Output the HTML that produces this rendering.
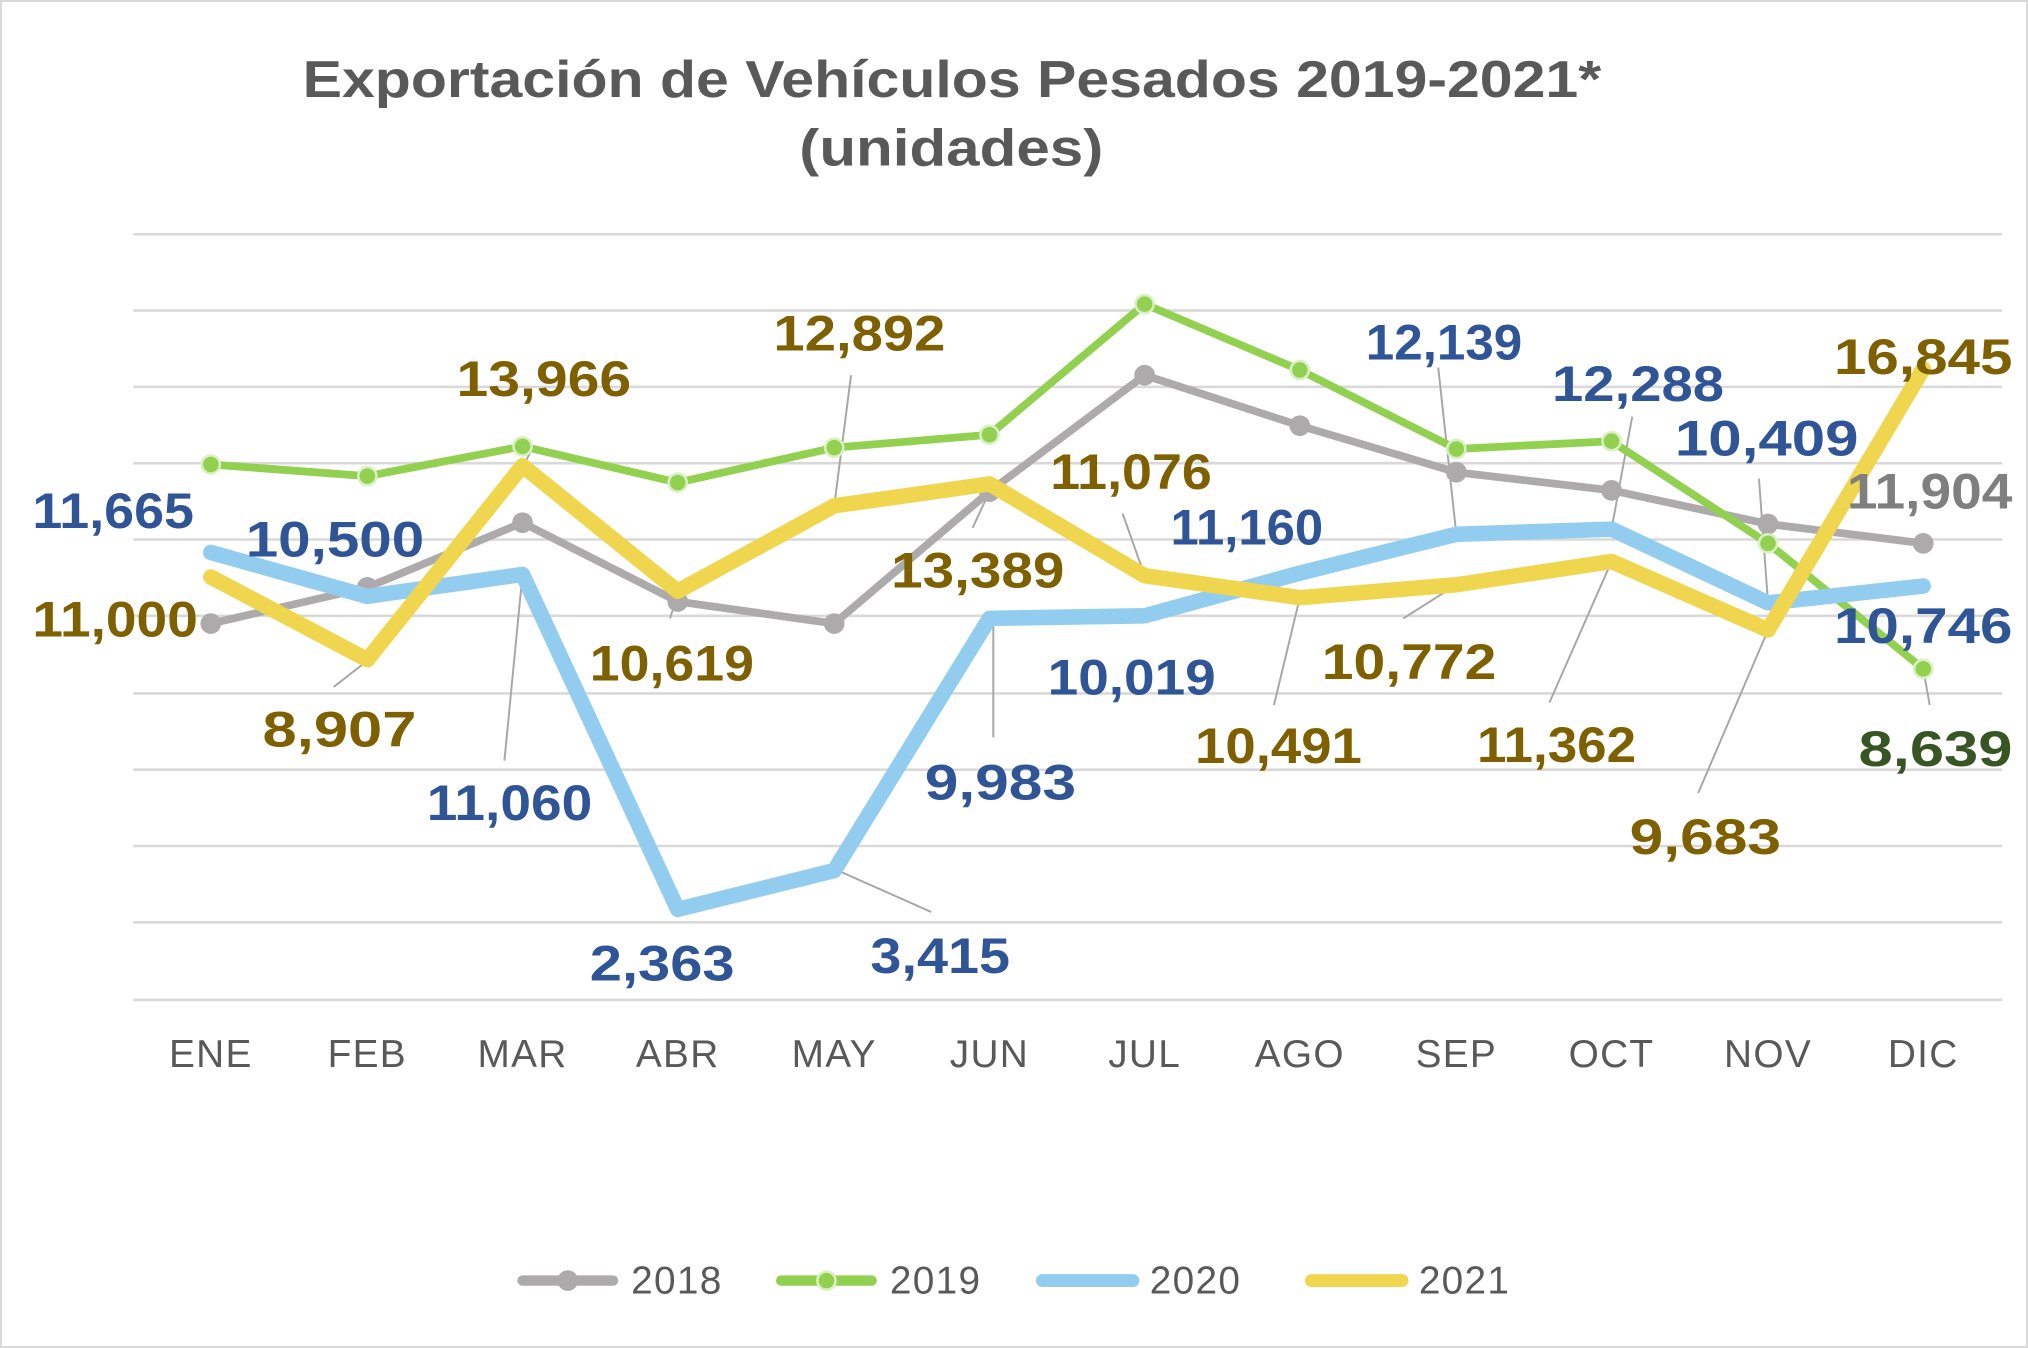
<!DOCTYPE html>
<html><head><meta charset="utf-8"><style>
html,body{margin:0;padding:0;background:#fff;}
svg{display:block;}
text{font-family:"Liberation Sans",sans-serif;}
.lb{font-weight:bold;font-size:39px;}
.b{fill:#2F5597}.g{fill:#7F6000}.dg{fill:#375623}.gr{fill:#7F7F7F}
.ax{font-size:30px;fill:#595959;letter-spacing:1px;}
</style></head><body>
<svg width="2028" height="1348" viewBox="0 0 1568 1042" xmlns="http://www.w3.org/2000/svg">
<rect x="0.5" y="0.5" width="1567" height="1041" fill="#fff" stroke="#d9d9d9" stroke-width="2"/>
<text x="234" y="75" textLength="1004" lengthAdjust="spacingAndGlyphs" font-weight="bold" font-size="40" fill="#595959">Exportación de Vehículos Pesados 2019-2021*</text>
<text x="618" y="128" textLength="235" lengthAdjust="spacingAndGlyphs" font-weight="bold" font-size="40" fill="#595959">(unidades)</text>
<g stroke="#d9d9d9" stroke-width="2">
<line x1="103" x2="1548" y1="181" y2="181"/><line x1="103" x2="1548" y1="240" y2="240"/>
<line x1="103" x2="1548" y1="299" y2="299"/><line x1="103" x2="1548" y1="358" y2="358"/>
<line x1="103" x2="1548" y1="417" y2="417"/><line x1="103" x2="1548" y1="476" y2="476"/>
<line x1="103" x2="1548" y1="536" y2="536"/><line x1="103" x2="1548" y1="595" y2="595"/>
<line x1="103" x2="1548" y1="654" y2="654"/><line x1="103" x2="1548" y1="713" y2="713"/>
<line x1="103" x2="1548" y1="773" y2="773"/>
</g>
<g stroke="#a6a6a6" stroke-width="1.5">
<line x1="258" y1="531" x2="285" y2="510"/><line x1="390" y1="588" x2="404" y2="444"/>
<line x1="404" y1="362" x2="412" y2="345"/><line x1="518" y1="478" x2="524" y2="460"/>
<line x1="645" y1="391" x2="658" y2="290"/><line x1="648" y1="673" x2="720" y2="705"/>
<line x1="752" y1="408" x2="765" y2="380"/><line x1="768" y1="478" x2="768" y2="570"/>
<line x1="868" y1="397" x2="885" y2="445"/><line x1="985" y1="545" x2="1005" y2="462"/>
<line x1="1085" y1="478" x2="1126" y2="452"/><line x1="1112" y1="284" x2="1126" y2="413"/>
<line x1="1198" y1="543" x2="1246" y2="434"/><line x1="1246" y1="409" x2="1262" y2="322"/>
<line x1="1313" y1="613" x2="1367" y2="487"/><line x1="1360" y1="370" x2="1367" y2="466"/>
<line x1="1487" y1="517" x2="1492" y2="545"/>
</g>
<polyline fill="none" stroke="#ADAAAB" stroke-width="6" stroke-linejoin="round" points="163,482 284,454 404,404 524,465 645,482 765,380 885,290 1005,329 1126,365 1246,379 1367,405 1487,420"/>
<g fill="#ADAAAB"><circle cx="163" cy="482" r="8"/><circle cx="284" cy="454" r="8"/><circle cx="404" cy="404" r="8"/><circle cx="524" cy="465" r="8"/><circle cx="645" cy="482" r="8"/><circle cx="765" cy="380" r="8"/><circle cx="885" cy="290" r="8"/><circle cx="1005" cy="329" r="8"/><circle cx="1126" cy="365" r="8"/><circle cx="1246" cy="379" r="8"/><circle cx="1367" cy="405" r="8"/><circle cx="1487" cy="420" r="8"/></g>
<polyline fill="none" stroke="#92D050" stroke-width="6" stroke-linejoin="round" points="163,359 284,368 404,345 524,373 645,346 765,336 885,235 1005,286 1126,347 1246,341 1367,420 1487,517"/>
<g fill="#92D050" stroke="#d9f0c2" stroke-width="2"><circle cx="163" cy="359" r="7"/><circle cx="284" cy="368" r="7"/><circle cx="404" cy="345" r="7"/><circle cx="524" cy="373" r="7"/><circle cx="645" cy="346" r="7"/><circle cx="765" cy="336" r="7"/><circle cx="885" cy="235" r="7"/><circle cx="1005" cy="286" r="7"/><circle cx="1126" cy="347" r="7"/><circle cx="1246" cy="341" r="7"/><circle cx="1367" cy="420" r="7"/><circle cx="1487" cy="517" r="7"/></g>
<polyline fill="none" stroke="#92CDEF" stroke-width="12" stroke-linejoin="round" stroke-linecap="round" points="163,427 284,461 404,444 524,703 645,673 765,478 885,476 1005,443 1126,413 1246,409 1367,466 1487,453"/>
<polyline fill="none" stroke="#F0D64E" stroke-width="12" stroke-linejoin="round" stroke-linecap="round" points="163,446 284,510 404,360 524,457 645,391 765,374 885,445 1005,462 1126,452 1246,434 1367,487 1487,285"/>
<g class="lb" lengthAdjust="spacingAndGlyphs">
<text class="b" x="25" y="408" textLength="125" lengthAdjust="spacingAndGlyphs">11,665</text>
<text class="g" x="25" y="492" textLength="128" lengthAdjust="spacingAndGlyphs">11,000</text>
<text class="b" x="190" y="430" textLength="138" lengthAdjust="spacingAndGlyphs">10,500</text>
<text class="g" x="203" y="577" textLength="119" lengthAdjust="spacingAndGlyphs">8,907</text>
<text class="b" x="330" y="634" textLength="128" lengthAdjust="spacingAndGlyphs">11,060</text>
<text class="g" x="353" y="306" textLength="135" lengthAdjust="spacingAndGlyphs">13,966</text>
<text class="g" x="456" y="526" textLength="127" lengthAdjust="spacingAndGlyphs">10,619</text>
<text class="b" x="456" y="758" textLength="112" lengthAdjust="spacingAndGlyphs">2,363</text>
<text class="g" x="598" y="271" textLength="133" lengthAdjust="spacingAndGlyphs">12,892</text>
<text class="b" x="673" y="752" textLength="108" lengthAdjust="spacingAndGlyphs">3,415</text>
<text class="g" x="689" y="454" textLength="134" lengthAdjust="spacingAndGlyphs">13,389</text>
<text class="b" x="715" y="618" textLength="117" lengthAdjust="spacingAndGlyphs">9,983</text>
<text class="g" x="812" y="378" textLength="125" lengthAdjust="spacingAndGlyphs">11,076</text>
<text class="b" x="810" y="537" textLength="130" lengthAdjust="spacingAndGlyphs">10,019</text>
<text class="b" x="905" y="421" textLength="118" lengthAdjust="spacingAndGlyphs">11,160</text>
<text class="g" x="924" y="590" textLength="129" lengthAdjust="spacingAndGlyphs">10,491</text>
<text class="g" x="1022" y="525" textLength="135" lengthAdjust="spacingAndGlyphs">10,772</text>
<text class="b" x="1056" y="278" textLength="121" lengthAdjust="spacingAndGlyphs">12,139</text>
<text class="b" x="1200" y="310" textLength="133" lengthAdjust="spacingAndGlyphs">12,288</text>
<text class="g" x="1142" y="589" textLength="123" lengthAdjust="spacingAndGlyphs">11,362</text>
<text class="b" x="1295" y="352" textLength="142" lengthAdjust="spacingAndGlyphs">10,409</text>
<text class="g" x="1260" y="660" textLength="117" lengthAdjust="spacingAndGlyphs">9,683</text>
<text class="g" x="1418" y="289" textLength="138" lengthAdjust="spacingAndGlyphs">16,845</text>
<text class="gr" x="1428" y="393" textLength="128" lengthAdjust="spacingAndGlyphs">11,904</text>
<text class="b" x="1418" y="497" textLength="138" lengthAdjust="spacingAndGlyphs">10,746</text>
<text class="dg" x="1437" y="592" textLength="119" lengthAdjust="spacingAndGlyphs">8,639</text>
</g>
<g class="ax" text-anchor="middle">
<text x="163" y="825">ENE</text><text x="284" y="825">FEB</text><text x="404" y="825">MAR</text><text x="524" y="825">ABR</text><text x="645" y="825">MAY</text><text x="765" y="825">JUN</text><text x="885" y="825">JUL</text><text x="1005" y="825">AGO</text><text x="1126" y="825">SEP</text><text x="1246" y="825">OCT</text><text x="1367" y="825">NOV</text><text x="1487" y="825">DIC</text>
</g>
<g>
<line x1="404" y1="990" x2="474" y2="990" stroke="#ADAAAB" stroke-width="8" stroke-linecap="round"/><circle cx="439" cy="990" r="8" fill="#ADAAAB"/>
<text class="ax" x="488" y="1000">2018</text>
<line x1="604" y1="990" x2="674" y2="990" stroke="#92D050" stroke-width="8" stroke-linecap="round"/><circle cx="639" cy="990" r="7" fill="#92D050" stroke="#d9f0c2" stroke-width="2"/>
<text class="ax" x="688" y="1000">2019</text>
<line x1="806" y1="990" x2="876" y2="990" stroke="#92CDEF" stroke-width="10" stroke-linecap="round"/>
<text class="ax" x="889" y="1000">2020</text>
<line x1="1014" y1="990" x2="1084" y2="990" stroke="#F0D64E" stroke-width="10" stroke-linecap="round"/>
<text class="ax" x="1097" y="1000">2021</text>
</g>
</svg>
</body></html>
